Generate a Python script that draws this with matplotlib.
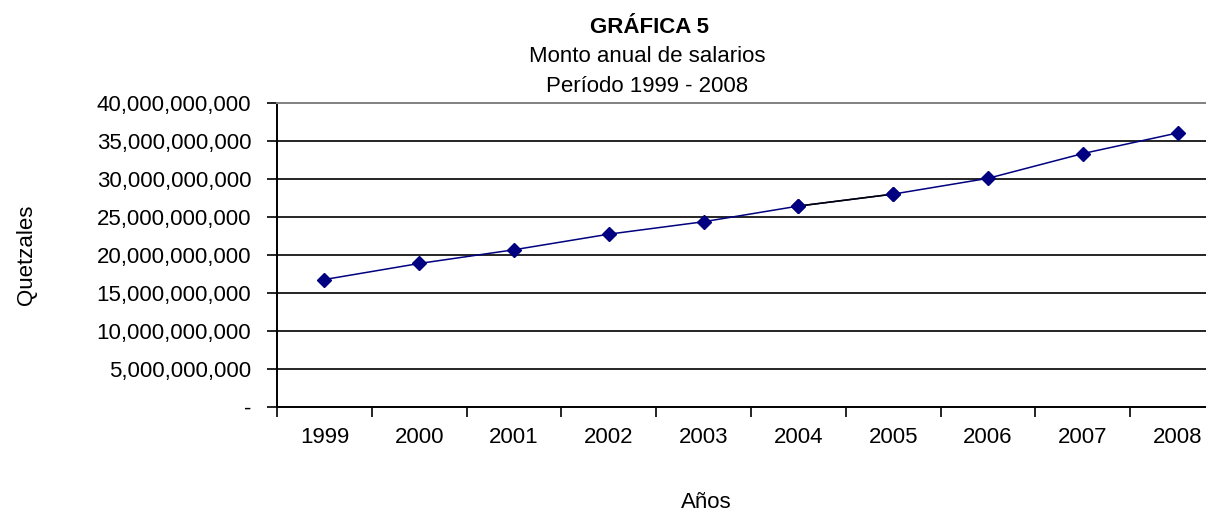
import matplotlib
matplotlib.use("Agg")
import matplotlib.pyplot as plt
from matplotlib.ticker import FuncFormatter, FixedLocator

plt.rcParams['font.family'] = ['Liberation Sans', 'DejaVu Sans']

years = ["1999", "2000", "2001", "2002", "2003", "2004", "2005", "2006", "2007", "2008"]
salarios = [16.76e9, 18.88e9, 20.69e9, 22.75e9, 24.39e9, 26.46e9, 28.04e9, 30.12e9, 33.39e9, 36.11e9]
y_ticks = [0, 5e9, 10e9, 15e9, 20e9, 25e9, 30e9, 35e9, 40e9]

W, H = 1206, 511
fig = plt.figure(figsize=(W / 100, H / 100), dpi=100)
left, right, top, bottom = 277, 1225, 103.5, 406.5
ax = fig.add_axes([left / W, (H - bottom) / H, (right - left) / W, (bottom - top) / H])

x = list(range(len(years)))
ax.plot(x, salarios, color='#000080', lw=1.1, marker='D', ms=7,
        markerfacecolor='#000080', markeredgecolor='#000080', zorder=3)
# segment drawn black in the original (2004-2005)
ax.plot(x[5:7], salarios[5:7], color='black', lw=1.1, zorder=3.5)
ax.plot(x[5:7], salarios[5:7], ls='none', marker='D', ms=7, color='#000080', zorder=4)

ax.set_xlim(-0.5, len(years) - 0.5)
ax.set_ylim(0, 40e9)

ax.set_yticks(y_ticks)
ax.yaxis.set_major_formatter(FuncFormatter(lambda v, p: '-' if v == 0 else f"{v:,.0f}"))
ax.tick_params(axis='y', direction='out', length=7, width=1.2, color='black',
               labelsize=16, pad=11.5)

ax.set_xticks(x)
ax.set_xticklabels(years)
ax.xaxis.set_minor_locator(FixedLocator([i - 0.5 for i in range(len(years) + 1)]))
ax.tick_params(axis='x', which='major', length=0, labelsize=16, pad=15)
ax.tick_params(axis='x', which='minor', direction='out', length=7, width=1.2, color='black')

for v in y_ticks[1:-1]:
    ax.axhline(v, color='black', lw=1.2, zorder=1)

ax.spines['right'].set_visible(False)
ax.spines['top'].set_color('#808080')
ax.spines['top'].set_linewidth(1.4)
ax.spines['left'].set_linewidth(1.4)
ax.spines['bottom'].set_linewidth(1.4)

def fy(py):
    return (H - py) / H

fig.text(650 / W, fy(33), "GRÁFICA 5", ha='center', va='baseline', fontsize=16, fontweight='bold')
fig.text(647 / W, fy(62), "Monto anual de salarios", ha='center', va='baseline', fontsize=16)
fig.text(647 / W, fy(92), "Período 1999 - 2008", ha='center', va='baseline', fontsize=16)
fig.text(706 / W, fy(508), "Años", ha='center', va='baseline', fontsize=16)
fig.text(26 / W, fy(255), "Quetzales", ha='center', va='center', rotation=90, fontsize=16)

fig.savefig("out.png", dpi=100)
